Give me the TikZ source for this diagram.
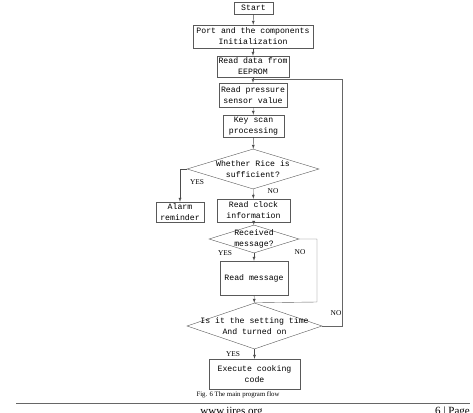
\documentclass[tikz,border=0pt]{standalone}
\usepackage{fontspec}
\setmainfont{Liberation Serif}
\setmonofont{Liberation Mono}
\usetikzlibrary{shapes.geometric}

\begin{document}
\begin{tikzpicture}[x=1pt,y=-1pt]
  \tikzstyle{process}=[draw=black!65, rectangle, inner sep=0pt, align=center,
    font=\ttfamily\fontsize{8.2}{11}\selectfont]
  \tikzstyle{decision}=[draw=black!65, diamond, inner sep=0pt]
  \tikzstyle{decision text}=[inner sep=0pt, align=center,
    font=\ttfamily\fontsize{8.2}{11}\selectfont]
  \tikzstyle{flow}=[draw=black!70, -latex]
  \tikzstyle{link}=[draw=black!60]
  \tikzstyle{answer}=[inner sep=0pt, font=\fontsize{7.4}{8}\selectfont]

  \useasboundingbox (0,0) rectangle (473,412);

  % boxes of the main loop
  \node[process, minimum width=39pt, minimum height=12pt] (start) at (253.5,8) {Start};
  \node[process, minimum width=120pt, minimum height=23pt] (init) at (253,36.5)
    {Port and the components\\Initialization};
  \node[process, minimum width=72pt, minimum height=21pt] (eeprom) at (253,66.5)
    {Read data from\\EEPROM};
  \node[process, minimum width=68pt, minimum height=24pt] (sensor) at (253,95)
    {Read pressure\\sensor value};
  \node[process, minimum width=61pt, minimum height=22pt] (keys) at (253.5,126)
    {Key scan\\processing};

  \node[decision, minimum width=132pt, minimum height=40pt] (rice) at (253,169) {};
  \node[decision text] (rice text) at (rice) {Whether Rice is\\sufficient?};

  \node[process, minimum width=48pt, minimum height=20pt] (alarm) at (180,212)
    {Alarm\\reminder};
  \node[process, minimum width=73pt, minimum height=23pt] (clock) at (253.5,210.5)
    {Read clock\\information};

  \node[decision, minimum width=90pt, minimum height=28pt] (msg) at (254,239) {};
  \node[decision text] (msg text) at (msg) {Received\\message?};

  \node[process, minimum width=68pt, minimum height=34pt] (readmsg) at (254,278)
    {Read message};

  \node[decision, minimum width=135pt, minimum height=46pt] (time) at (254.5,326) {};
  \node[decision text] (time text) at (time) {Is it the setting time\\And turned on};

  \node[process, minimum width=91pt, minimum height=30pt] (cook) at (254.5,374)
    {Execute cooking\\code};

  % turning points of the return lines
  \coordinate (merge) at (253,79);
  \coordinate (loop) at (342,79);
  \coordinate (skip) at (317,302);

  \draw[flow] (start) -- (init);
  \draw[flow] (init) -- (eeprom);
  \draw[flow] (eeprom) -- (sensor);
  \draw[flow] (sensor) -- (keys);
  \draw[flow] (keys) -- (rice);
  \draw[flow] (rice.west) -| (alarm.north);
  \draw[flow] (rice) -- (clock);
  \draw[flow] (clock) -- (msg);
  \draw[flow] (msg) -- (readmsg);
  \draw[flow] (readmsg) -- (time);
  \draw[flow] (time) -- (cook);
  \draw[link] (msg.east) -| (skip) -- (time.north);
  \draw[link] (time.east) -| (loop) -- (merge);

  \node[answer] (rice yes) at (197,182) {YES};
  \node[answer] (rice no) at (273,191) {NO};
  \node[answer] (msg yes) at (225,253) {YES};
  \node[answer] (msg no) at (300,252) {NO};
  \node[answer] (time no) at (336,313) {NO};
  \node[answer] (time yes) at (233,354) {YES};

  \node[inner sep=0pt, font=\fontsize{6.8}{8}\selectfont] (caption) at (238,395)
    {Fig. 6 The main program flow};

  % page footer
  \coordinate (rule left) at (16,403);
  \coordinate (rule right) at (470,403);
  \draw[black!60, line width=0.8pt] (rule left) -- (rule right);
  \node[anchor=base, inner sep=0pt, font=\fontsize{11}{12}\selectfont] (site) at (231.5,414.5)
    {www.ijres.org};
  \node[anchor=base east, inner sep=0pt, font=\fontsize{11}{12}\selectfont] (page) at (470,414.5)
    {6 | Page};
\end{tikzpicture}
\end{document}
